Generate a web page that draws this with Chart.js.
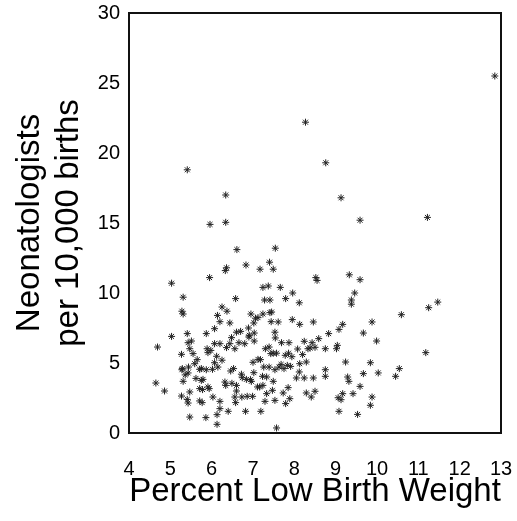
<!DOCTYPE html>
<html>
<head>
<meta charset="utf-8">
<script src="https://cdn.jsdelivr.net/npm/chart.js@4/dist/chart.umd.min.js"></script>
<style>
  html, body { margin: 0; padding: 0; background: #fff; }
  .scatter { position: relative; width: 517px; height: 521px; }
</style>
</head>
<body>
<div class="scatter"><canvas width="517" height="521"></canvas></div>
<script>
// values
const lowBirthWeight = [
  12.85, 8.27, 5.41, 8.76, 6.34, 9.13, 11.22, 9.59, 5.96, 6.34,
  6.61, 7.54, 6.83, 6.36, 6.33, 7.17, 7.40, 7.49, 5.95, 5.03,
  8.52, 8.55, 9.33, 9.59, 9.46, 9.38, 9.38, 5.31, 6.58, 7.24,
  7.37, 7.66, 7.96, 7.79, 7.28, 7.41, 8.12, 11.25, 11.47, 10.59,
  5.28, 5.31, 6.25, 6.37, 6.14, 6.20, 6.44, 6.95, 7.06, 7.12,
  7.24, 7.41, 7.45, 7.44, 7.61, 7.02, 6.89, 7.03, 6.91, 7.95,
  8.13, 8.46, 9.17, 9.08, 9.88, 9.67, 9.99, 8.83, 8.59, 6.07,
  5.87, 6.60, 6.70, 5.41, 5.03, 4.69, 5.51, 5.43, 6.07, 6.20,
  6.48, 6.44, 6.36, 6.66, 6.56, 6.80, 6.90, 7.03, 7.53, 7.54,
  7.30, 7.39, 7.49, 7.43, 7.57, 7.69, 7.87, 7.86, 8.08, 8.24,
  8.43, 8.33, 8.38, 8.50, 8.75, 9.04, 9.02, 5.89, 5.91, 5.47,
  5.27, 5.55, 5.65, 5.59, 6.12, 6.07, 6.15, 5.87, 5.75, 5.71,
  5.44, 5.29, 5.28, 5.43, 5.31, 4.65, 4.86, 5.27, 5.41, 5.43,
  5.47, 5.86, 6.13, 6.13, 6.20, 6.40, 6.82, 7.19, 7.57, 5.71,
  5.77, 5.47, 5.75, 5.79, 5.91, 5.94, 5.78, 6.03, 6.20, 6.32,
  6.34, 6.46, 6.53, 6.60, 6.56, 6.58, 6.73, 6.86, 6.99, 6.74,
  6.84, 6.94, 6.96, 7.02, 7.11, 7.16, 7.24, 7.12, 7.18, 7.26,
  7.23, 7.33, 7.39, 7.53, 7.49, 7.33, 7.29, 7.53, 7.63, 7.75,
  7.83, 7.91, 8.13, 8.29, 8.12, 8.05, 8.24, 8.46, 7.85, 7.73,
  7.89, 7.79, 8.29, 8.41, 8.50, 8.75, 8.75, 9.24, 9.29, 9.32,
  9.59, 9.67, 9.84, 10.03, 9.06, 9.17, 9.13, 9.42, 9.08, 9.53,
  9.88, 9.84, 10.45, 10.54, 11.18, 5.71, 6.02, 6.60, 7.94, 7.68,
  6.25, 5.98, 7.00, 7.78, 6.49, 5.62, 8.20, 6.72, 7.47, 5.36
]
const neonatologists = [
  25.5, 22.2, 18.8, 19.3, 17.0, 16.8, 15.4, 15.2, 14.9, 15.05,
  13.1, 13.2, 12.0, 11.8, 11.6, 11.7, 12.2, 11.7, 11.1, 10.7,
  11.1, 10.9, 11.3, 10.95, 10.0, 9.5, 9.2, 9.7, 9.6, 10.4,
  10.5, 10.4, 10.0, 9.6, 9.5, 9.5, 9.3, 8.95, 9.35, 8.45,
  8.7, 8.5, 9.0, 8.7, 8.4, 7.95, 7.86, 8.5, 8.2, 8.24,
  8.5, 8.6, 8.64, 7.95, 7.93, 7.86, 7.5, 7.14, 6.98, 8.1,
  7.76, 7.93, 7.76, 7.4, 7.93, 7.14, 6.57, 7.1, 6.74, 7.45,
  7.1, 7.2, 7.26, 7.1, 6.9, 6.14, 6.57, 6.45, 6.38, 6.38,
  6.81, 6.38, 6.1, 6.45, 6.02, 6.38, 6.86, 6.57, 7.2, 6.79,
  6.02, 6.14, 5.7, 5.67, 5.7, 6.45, 6.45, 5.7, 6.0, 6.55,
  6.45, 6.02, 6.07, 6.12, 6.02, 6.26, 6.02, 6.02, 5.74, 6.02,
  5.62, 5.67, 5.24, 4.95, 5.48, 5.02, 4.71, 4.52, 4.6, 4.55,
  4.71, 4.6, 4.52, 4.29, 3.69, 3.57, 3.0, 2.64, 2.4, 2.14,
  1.14, 1.1, 0.62, 1.31, 1.74, 1.55, 1.55, 1.55, 0.36, 2.29,
  2.17, 2.93, 3.76, 3.83, 3.29, 3.17, 3.1, 2.57, 2.26, 3.64,
  3.4, 4.43, 4.6, 3.0, 2.57, 2.17, 2.57, 2.62, 2.62, 3.95,
  3.83, 3.81, 3.69, 4.31, 3.29, 3.29, 3.4, 5.26, 5.24, 4.71,
  4.05, 4.0, 4.71, 4.52, 3.69, 2.81, 2.26, 2.33, 4.71, 4.6,
  4.83, 4.76, 4.95, 5.07, 4.36, 3.93, 3.93, 3.93, 3.24, 2.86,
  2.45, 2.1, 2.86, 2.57, 2.98, 4.52, 4.05, 5.07, 4.0, 3.69,
  3.33, 4.24, 5.02, 4.29, 2.52, 2.81, 2.38, 2.81, 1.55, 1.33,
  2.57, 1.98, 4.05, 4.6, 5.74, 3.17, 4.55, 3.4, 5.45, 4.9,
  5.2, 5.9, 5.05, 5.55, 3.55, 3.9, 5.6, 4.2, 3.05, 4.15
]
const xTicks = [4, 5, 6, 7, 8, 9, 10, 11, 12, 13]
const yTicks = [0, 5, 10, 15, 20, 25, 30]

const points = lowBirthWeight.map((x, i) => ({ x: x, y: neonatologists[i] }))

// box round the plot area
const frame = {
  id: 'frame',
  afterDatasetsDraw(chart) {
    const a = chart.chartArea
    const ctx = chart.ctx
    ctx.save()
    ctx.strokeStyle = '#111'
    ctx.lineWidth = 2
    ctx.strokeRect(a.left, a.top, a.right - a.left, a.bottom - a.top)
    ctx.restore()
  }
}

Chart.defaults.font.family = '"Liberation Sans", Arial, sans-serif'
Chart.defaults.color = '#000'

new Chart(document.querySelector('canvas'), {
  type: 'scatter',
  data: {
    datasets: [{
      data: points,
      pointStyle: 'star',
      pointRadius: 3.5,
      borderColor: '#222',
      backgroundColor: '#222',
      borderWidth: 1
    }]
  },
  options: {
    responsive: false,
    animation: false,
    maintainAspectRatio: false,
    layout: { padding: { top: 13, right: 16, left: 0, bottom: 0 } },
    plugins: { legend: { display: false }, tooltip: { enabled: false } },
    scales: {
      x: {
        min: 4,
        max: 13,
        afterBuildTicks: (axis) => { axis.ticks = xTicks.map(v => ({ value: v })) },
        afterFit: (axis) => {
          axis.height = 88
          axis.paddingLeft = 0
          axis.paddingRight = 0
        },
        grid: { display: false, drawTicks: false },
        border: { display: false },
        ticks: { font: { size: 20 }, padding: 24, maxRotation: 0, autoSkip: false },
        title: {
          display: true,
          text: 'Percent Low Birth Weight',
          font: { size: 33, lineHeight: 1.2 },
          padding: { top: 0, bottom: 9 }
        }
      },
      y: {
        min: 0,
        max: 30,
        afterBuildTicks: (axis) => { axis.ticks = yTicks.map(v => ({ value: v })) },
        afterFit: (axis) => {
          axis.width = 129
          axis.paddingTop = 0
          axis.paddingBottom = 0
        },
        grid: { display: false, drawTicks: false },
        border: { display: false },
        ticks: { font: { size: 20 }, padding: 9, autoSkip: false },
        title: {
          display: true,
          text: ['Neonatologists', 'per 10,000 births'],
          font: { size: 33, lineHeight: 1.2 },
          padding: { top: 10, bottom: 0 }
        }
      }
    }
  },
  plugins: [frame]
})
</script>
</body>
</html>
